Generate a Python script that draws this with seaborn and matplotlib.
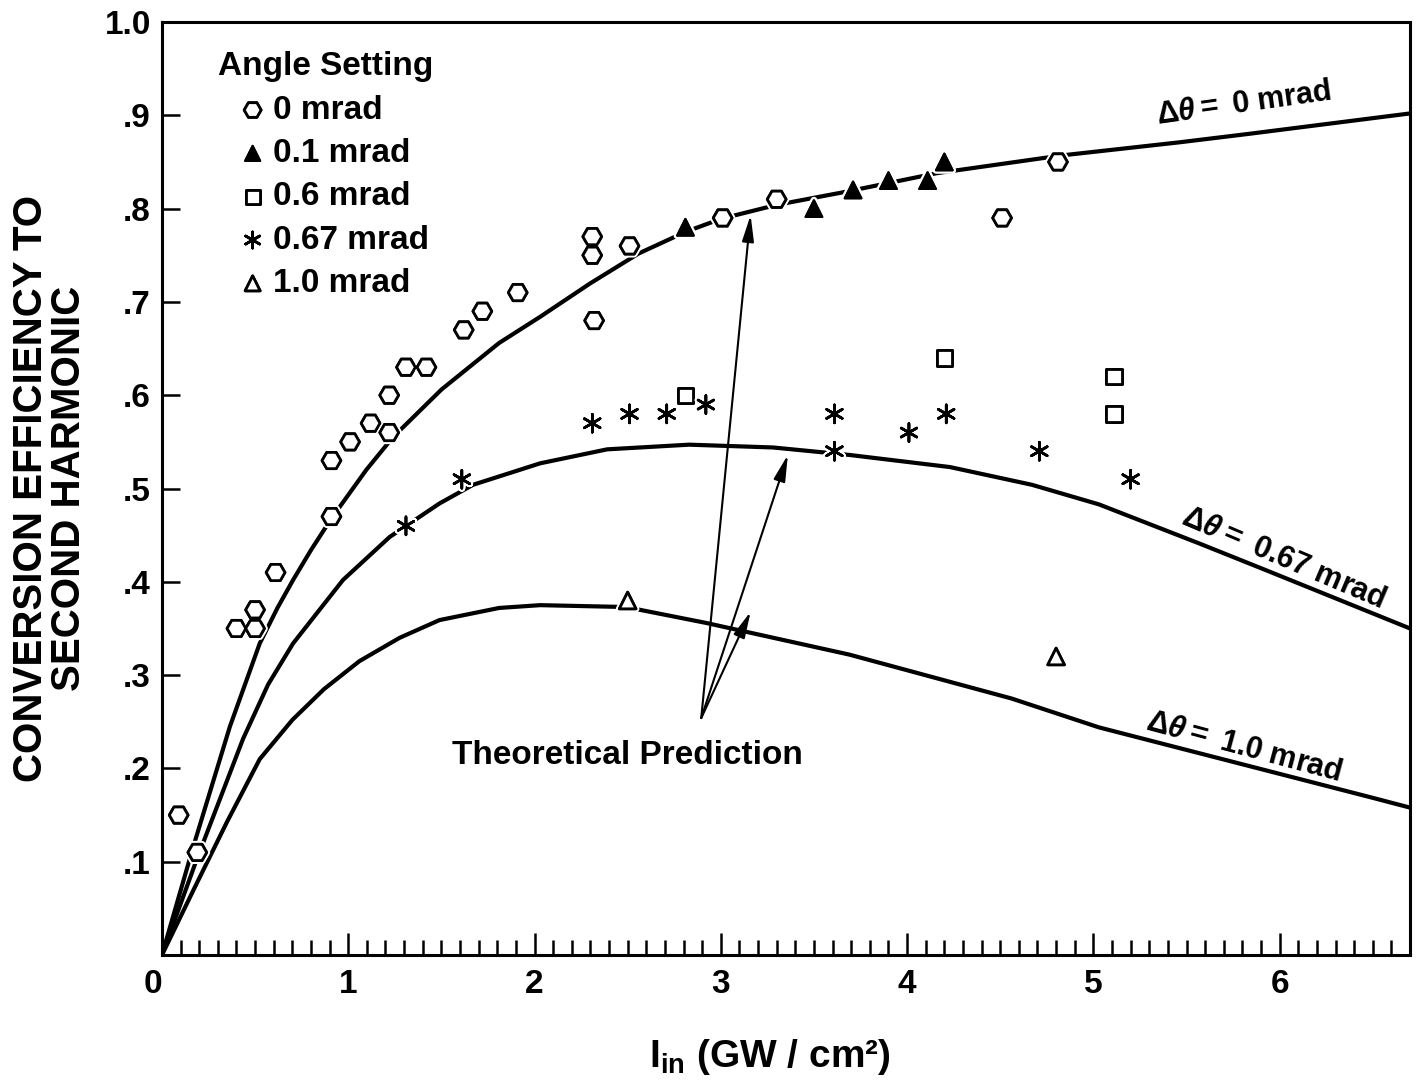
import numpy as np
import pandas as pd
import matplotlib
matplotlib.use("Agg")
import matplotlib.pyplot as plt
import matplotlib.patheffects as pe
from matplotlib.ticker import MultipleLocator, FixedLocator
import seaborn as sns

# ---------------- data ----------------
# measured points per angle setting
x_0mrad = [0.09, 0.19, 0.40, 0.50, 0.50, 0.61, 0.91, 0.91, 1.01, 1.12, 1.22, 1.22,
           1.31, 1.42, 1.62, 1.72, 1.91, 2.31, 2.31, 2.32, 2.51, 3.01, 3.30, 4.51, 4.81]
y_0mrad = [0.15, 0.11, 0.35, 0.35, 0.37, 0.41, 0.53, 0.47, 0.55, 0.57, 0.60, 0.56,
           0.63, 0.63, 0.67, 0.69, 0.71, 0.77, 0.75, 0.68, 0.76, 0.79, 0.81, 0.79, 0.85]

x_01mrad = [2.81, 3.50, 3.71, 3.90, 4.11, 4.20]
y_01mrad = [0.78, 0.80, 0.82, 0.83, 0.83, 0.85]

x_06mrad = [2.81, 4.20, 5.11, 5.11]
y_06mrad = [0.60, 0.64, 0.62, 0.58]

x_067mrad = [1.31, 1.61, 2.31, 2.51, 2.71, 2.92, 3.61, 3.61, 4.01, 4.21, 4.71, 5.20]
y_067mrad = [0.46, 0.51, 0.57, 0.58, 0.58, 0.59, 0.58, 0.54, 0.56, 0.58, 0.54, 0.51]

x_10mrad = [2.50, 4.80]
y_10mrad = [0.38, 0.32]

# theoretical curves
xc_0 = [0, 0.168, 0.365, 0.525, 0.62, 0.704, 0.80, 0.91, 1.097, 1.24, 1.5, 1.81, 2.03,
        2.3, 2.56, 2.81, 3.0, 3.3, 3.67, 4.16, 4.83, 5.46, 5.83, 6.7]
yc_0 = [0, 0.116, 0.245, 0.334, 0.372, 0.402, 0.434, 0.468, 0.52, 0.555, 0.606, 0.656,
        0.684, 0.720, 0.752, 0.775, 0.789, 0.804, 0.818, 0.838, 0.857, 0.871, 0.880, 0.902]

xc_067 = [0, 0.186, 0.436, 0.57, 0.704, 0.972, 1.222, 1.49, 1.67, 2.03, 2.39, 2.83, 3.28,
          3.69, 4.23, 4.67, 5.03, 5.57, 5.92, 6.7]
yc_067 = [0, 0.102, 0.232, 0.290, 0.334, 0.402, 0.448, 0.484, 0.504, 0.527, 0.542, 0.547,
          0.544, 0.536, 0.523, 0.504, 0.483, 0.441, 0.413, 0.350]

xc_10 = [0, 0.17, 0.35, 0.525, 0.70, 0.87, 1.06, 1.276, 1.49, 1.81, 2.03, 2.49, 2.92,
         3.69, 4.56, 5.03, 6.49, 6.7]
yc_10 = [0, 0.070, 0.143, 0.210, 0.252, 0.285, 0.315, 0.340, 0.359, 0.372, 0.375, 0.373,
         0.356, 0.322, 0.275, 0.244, 0.169, 0.158]

y_ticks = [0.1, 0.2, 0.3, 0.4, 0.5, 0.6, 0.7, 0.8, 0.9, 1.0]
y_tick_labels = [".1", ".2", ".3", ".4", ".5", ".6", ".7", ".8", ".9", "1.0"]
x_ticks = [0, 1, 2, 3, 4, 5, 6]
x_tick_labels = ["0", "1", "2", "3", "4", "5", "6"]

# ---------------- style ----------------
sns.set_style("ticks")
plt.rcParams["font.family"] = ["Liberation Sans", "DejaVu Sans"]
plt.rcParams["font.weight"] = "bold"
plt.rcParams["text.color"] = "black"
plt.rcParams["axes.labelcolor"] = "black"
plt.rcParams["xtick.color"] = "black"
plt.rcParams["ytick.color"] = "black"
plt.rcParams["axes.edgecolor"] = "black"
plt.rcParams["mathtext.fontset"] = "custom"
plt.rcParams["mathtext.rm"] = "Liberation Sans"
plt.rcParams["mathtext.bf"] = "Liberation Sans:bold"
plt.rcParams["mathtext.it"] = "Liberation Sans:italic"

fig = plt.figure(figsize=(14.18, 10.89), dpi=100)
ax = fig.add_axes([0.1142, 0.1230, 0.8802, 0.8568])

# curves
for xs, ys in [(xc_0, yc_0), (xc_067, yc_067), (xc_10, yc_10)]:
    df = pd.DataFrame({"x": xs, "y": ys})
    sns.lineplot(data=df, x="x", y="y", sort=False, estimator=None, ax=ax,
                 color="black", linewidth=3.0, zorder=2)

# measured points
halo = [pe.withStroke(linewidth=5, foreground="white")]
sns.scatterplot(x=x_0mrad, y=y_0mrad, marker="H", s=13.5 ** 2, color="white",
                edgecolor="black", linewidth=2.0, label="0 mrad", ax=ax, zorder=4)
sns.scatterplot(x=x_01mrad, y=y_01mrad, marker="^", s=12 ** 2, color="black",
                edgecolor="black", linewidth=1.5, label="0.1 mrad", ax=ax, zorder=4)
sns.scatterplot(x=x_06mrad, y=y_06mrad, marker="s", s=11 ** 2, color="white",
                edgecolor="black", linewidth=2.0, label="0.6 mrad", ax=ax, zorder=4)
sns.scatterplot(x=x_067mrad, y=y_067mrad, marker=(6, 2, 0), s=13 ** 2, color="black",
                edgecolor="black", linewidth=1.8, label="0.67 mrad", ax=ax, zorder=4)
sns.scatterplot(x=x_10mrad, y=y_10mrad, marker="^", s=12 ** 2, color="white",
                edgecolor="black", linewidth=2.0, label="1.0 mrad", ax=ax, zorder=4)
for coll in ax.collections:
    coll.set_path_effects(halo + [pe.Normal()])

# axes setup
ax.set_xlim(0, 6.7)
ax.set_ylim(0, 1.0)
ax.xaxis.set_major_locator(FixedLocator(x_ticks))
ax.set_xticklabels(x_tick_labels)
ax.xaxis.set_minor_locator(MultipleLocator(0.1))
ax.set_yticks(y_ticks)
ax.set_yticklabels(y_tick_labels)
ax.tick_params(axis="x", which="major", direction="in", length=16, width=1.8,
               labelsize=24, pad=10, top=False)
ax.tick_params(axis="x", which="minor", direction="in", length=11, width=1.8, top=False)
ax.tick_params(axis="y", which="major", direction="in", length=13, width=1.8,
               labelsize=24, pad=8, right=False)
ax.get_xticklabels()[0].set_horizontalalignment("right")
for sp in ax.spines.values():
    sp.set_visible(True)
    sp.set_linewidth(2.2)
    sp.set_color("black")

ax.set_ylabel("CONVERSION EFFICIENCY TO\nSECOND HARMONIC", fontsize=29,
              fontweight="bold", linespacing=1.0, labelpad=12)
ax.set_xlabel(r"I$_{\mathbf{in}}$ (GW / cm²)", fontsize=28, fontweight="bold")
ax.xaxis.set_label_coords(0.487, -0.088)

# legend
ax.text(0.045, 0.952, "Angle Setting", transform=ax.transAxes, fontsize=24,
        fontweight="bold", ha="left", va="center")
leg = ax.legend(loc="upper left", bbox_to_anchor=(0.062, 0.922),
                frameon=False, fontsize=24, borderaxespad=0,
                handlelength=0.8, handletextpad=0.2, labelspacing=0.37,
                borderpad=0.0, markerscale=0.9)
for t in leg.get_texts():
    t.set_fontweight("bold")

# curve labels
ax.text(5.81, 0.912, r"$\Delta\theta =$ 0 mrad", fontsize=22, fontweight="bold",
        rotation=8, ha="center", va="center", rotation_mode="anchor")
ax.text(6.02, 0.425, r"$\Delta\theta =$ 0.67 mrad", fontsize=22, fontweight="bold",
        rotation=-23, ha="center", va="center", rotation_mode="anchor")
ax.text(5.81, 0.222, r"$\Delta\theta =$ 1.0 mrad", fontsize=22, fontweight="bold",
        rotation=-15, ha="center", va="center", rotation_mode="anchor")

# theoretical prediction arrows
tail = (2.895, 0.254)
for target in [(3.16, 0.793), (3.36, 0.536), (3.16, 0.368)]:
    ax.annotate("", xy=target, xytext=tail,
                arrowprops=dict(arrowstyle="-|>,head_length=0.8,head_width=0.18",
                                color="black", lw=1.5, shrinkA=0, shrinkB=0,
                                mutation_scale=20))
ax.text(2.5, 0.214, "Theoretical Prediction", fontsize=24, fontweight="bold",
        ha="center", va="center")

fig.savefig("out.png", dpi=100)
